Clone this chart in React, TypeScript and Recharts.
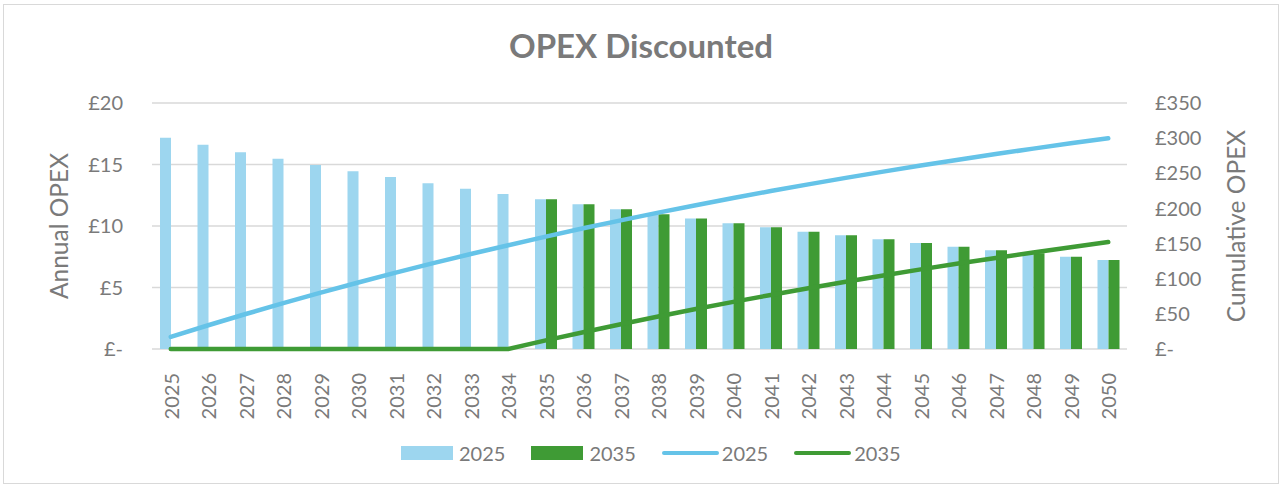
import {
  ComposedChart,
  Bar,
  Line,
  XAxis,
  YAxis,
  CartesianGrid,
} from "recharts";

const years = [
  "2025", "2026", "2027", "2028", "2029", "2030", "2031", "2032", "2033",
  "2034", "2035", "2036", "2037", "2038", "2039", "2040", "2041", "2042",
  "2043", "2044", "2045", "2046", "2047", "2048", "2049", "2050",
];

// annual opex, discounted
const annual2025 = [
  17.18, 16.6, 16.0, 15.47, 14.96, 14.45, 13.98, 13.47, 13.03, 12.6, 12.17,
  11.76, 11.36, 10.95, 10.6, 10.22, 9.89, 9.54, 9.24, 8.92, 8.62, 8.32, 8.02,
  7.78, 7.5, 7.24,
];
const annual2035 = [
  null, null, null, null, null, null, null, null, null, null, 12.17, 11.76,
  11.36, 10.95, 10.6, 10.22, 9.89, 9.54, 9.24, 8.92, 8.62, 8.32, 8.02, 7.78,
  7.5, 7.24,
];

// cumulative opex
const cumulative2025 = [
  17.2, 33.8, 49.8, 65.2, 80.2, 94.6, 108.6, 122.1, 135.1, 147.7, 159.9,
  171.7, 183.0, 194.0, 204.6, 214.8, 224.7, 234.2, 243.5, 252.4, 261.0, 269.3,
  277.4, 285.1, 292.6, 299.9,
];
const cumulative2035 = [
  0, 0, 0, 0, 0, 0, 0, 0, 0, 0, 12.2, 23.9, 35.3, 46.2, 56.8, 67.0, 76.9,
  86.5, 95.7, 104.6, 113.3, 121.6, 129.6, 137.4, 144.9, 152.1,
];

const leftTicks = [0, 5, 10, 15, 20];
const rightTicks = [0, 50, 100, 150, 200, 250, 300, 350];

const data = years.map((year, i) => ({
  year,
  a2025: annual2025[i],
  a2035: annual2035[i],
  c2025: cumulative2025[i],
  c2035: cumulative2035[i],
}));

const GREY = "#7a7a7a";
const FONT = "Lato, 'Open Sans', sans-serif";
const BAR_BLUE = "#9dd6ef";
const GREEN = "#3f9b35";
const LINE_BLUE = "#65c3e8";

const pound = (v: number) => (v === 0 ? "£-" : `£${v}`);

const YearTick = (props: any) => {
  const { x, y, payload } = props;
  return (
    <text
      x={0}
      y={0}
      transform={`translate(${x},${y + 16}) rotate(-90)`}
      textAnchor="end"
      dominantBaseline="central"
      fill={GREY}
      fontSize={20}
      fontFamily={FONT}
    >
      {payload.value}
    </text>
  );
};

const legendItems = [
  { label: "2025", color: BAR_BLUE, kind: "bar" },
  { label: "2035", color: GREEN, kind: "bar" },
  { label: "2025", color: LINE_BLUE, kind: "line" },
  { label: "2035", color: GREEN, kind: "line" },
];

export default function App() {
  return (
    <div
      style={{
        position: "fixed",
        left: 0,
        top: 0,
        width: 1282,
        height: 486,
        background: "#fff",
        fontFamily: FONT,
      }}
    >
      <div
        style={{
          position: "absolute",
          left: 3,
          top: 4,
          width: 1274,
          height: 478,
          border: "1px solid #d9d9d9",
        }}
      />
      <div
        style={{
          position: "absolute",
          top: 25,
          left: 0,
          width: 1282,
          textAlign: "center",
          fontSize: 33,
          fontWeight: 700,
          color: GREY,
        }}
      >
        OPEX Discounted
      </div>
      <div
        style={{
          position: "absolute",
          left: 58,
          top: 226,
          transform: "translate(-50%, -50%) rotate(-90deg)",
          whiteSpace: "nowrap",
          fontSize: 24.5,
          color: GREY,
        }}
      >
        Annual OPEX
      </div>
      <div
        style={{
          position: "absolute",
          left: 1235,
          top: 226,
          transform: "translate(-50%, -50%) rotate(-90deg)",
          whiteSpace: "nowrap",
          fontSize: 24.5,
          color: GREY,
        }}
      >
        Cumulative OPEX
      </div>
      <div style={{ position: "absolute", left: 0, top: 0 }}>
        <ComposedChart
          width={1282}
          height={486}
          data={data}
          margin={{ top: 103, right: 0, bottom: 77, left: 0 }}
          barGap={0}
        >
          <CartesianGrid
            yAxisId="left"
            vertical={false}
            stroke="#d9d9d9"
            strokeWidth={1.3}
          />
          <XAxis
            dataKey="year"
            height={60}
            interval={0}
            tick={<YearTick />}
            tickLine={false}
            axisLine={false}
          />
          <YAxis
            yAxisId="left"
            orientation="left"
            width={152}
            domain={[0, 20]}
            ticks={leftTicks}
            tickFormatter={pound}
            tickLine={false}
            axisLine={false}
            tickMargin={23}
            tick={{ fill: GREY, fontSize: 20, fontFamily: FONT }}
          />
          <YAxis
            yAxisId="right"
            orientation="right"
            width={155}
            domain={[0, 350]}
            ticks={rightTicks}
            tickFormatter={pound}
            tickLine={false}
            axisLine={false}
            tickMargin={22}
            tick={{ fill: GREY, fontSize: 20, fontFamily: FONT, textAnchor: "start" }}
          />
          <Bar
            yAxisId="left"
            dataKey="a2025"
            fill={BAR_BLUE}
            barSize={11}
            isAnimationActive={false}
          />
          <Bar
            yAxisId="left"
            dataKey="a2035"
            fill={GREEN}
            barSize={11}
            isAnimationActive={false}
          />
          <Line
            yAxisId="right"
            dataKey="c2025"
            stroke={LINE_BLUE}
            strokeWidth={4.5}
            strokeLinecap="round"
            dot={false}
            type="linear"
            isAnimationActive={false}
          />
          <Line
            yAxisId="right"
            dataKey="c2035"
            stroke={GREEN}
            strokeWidth={4.5}
            strokeLinecap="round"
            dot={false}
            type="linear"
            isAnimationActive={false}
          />
        </ComposedChart>
      </div>
      <div
        style={{
          position: "absolute",
          top: 441,
          left: 401,
          display: "flex",
          alignItems: "center",
          fontSize: 20,
          color: GREY,
        }}
      >
        {legendItems.map((item, i) => (
          <div
            key={i}
            style={{ display: "flex", alignItems: "center", marginRight: 26 }}
          >
            {item.kind === "bar" ? (
              <span
                style={{
                  width: 52,
                  height: 14,
                  background: item.color,
                  marginRight: 6,
                }}
              />
            ) : (
              <span
                style={{
                  width: 57,
                  height: 4,
                  borderRadius: 2,
                  background: item.color,
                  marginRight: 3,
                }}
              />
            )}
            <span>{item.label}</span>
          </div>
        ))}
      </div>
    </div>
  );
}
